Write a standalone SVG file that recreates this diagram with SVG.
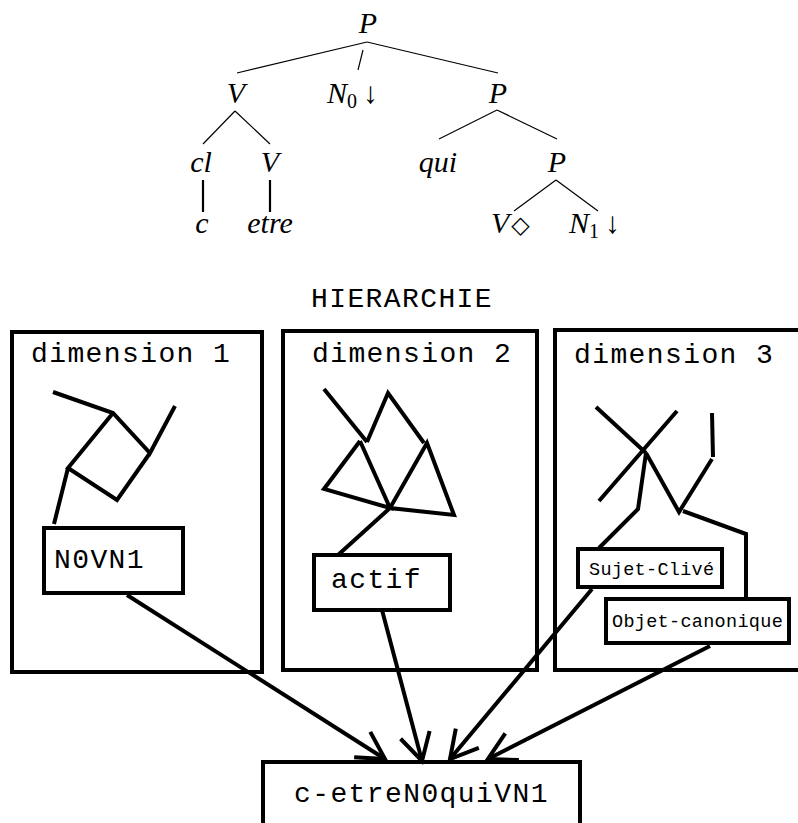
<svg xmlns="http://www.w3.org/2000/svg" width="798" height="823" viewBox="0 0 798 823">
  <style>
    .tree { font-family: "Liberation Serif", "Times New Roman", serif; font-style: italic; font-size: 30px; fill: #000; }
    .up { font-style: normal; }
    .sub { font-style: normal; font-size: 20px; }
    .thin { stroke: #000; stroke-width: 1.2; fill: none; }
    .mid { stroke: #000; stroke-width: 2.2; fill: none; }
    .mono { font-family: "Liberation Mono", "Courier New", monospace; font-size: 28px; letter-spacing: 1.4px; fill: #000; }
    .small { font-size: 18.5px; letter-spacing: 0.3px; }
    .box { stroke: #000; stroke-width: 4; fill: none; }
    .bold { stroke: #000; stroke-width: 4; fill: none; stroke-linejoin: miter; }
    .arrow { stroke: #000; stroke-width: 4; fill: none; marker-end: url(#vhead); }
  </style>
  <defs>
    <marker id="vhead" markerUnits="userSpaceOnUse" markerWidth="40" markerHeight="40" viewBox="-34 -20 40 40" refX="0" refY="0" orient="auto">
      <path d="M-27,-15 L0,0 L-27,15" stroke="#000" stroke-width="4" fill="none"/>
    </marker>
  </defs>
  <rect width="798" height="823" fill="#fff"/>

  <!-- elementary tree -->
  <g id="tree">
    <g class="thin">
      <line x1="367" y1="42" x2="237" y2="73"/>
      <line x1="363" y1="50" x2="358" y2="70"/>
      <line x1="367" y1="42" x2="498" y2="73"/>
      <line x1="235" y1="111" x2="203" y2="144"/>
      <line x1="235" y1="111" x2="270" y2="144"/>
      <line x1="497" y1="110" x2="439" y2="139"/>
      <line x1="497" y1="110" x2="557" y2="139"/>
      <line x1="556" y1="180" x2="514" y2="211"/>
      <line x1="556" y1="180" x2="598" y2="211"/>
    </g>
    <g class="mid">
      <line x1="203" y1="180" x2="203" y2="212"/>
      <line x1="270" y1="180" x2="270" y2="212"/>
    </g>
    <g class="tree">
      <text x="368" y="33" text-anchor="middle">P</text>
      <text x="236" y="103" text-anchor="middle">V</text>
      <text x="327" y="103">N<tspan class="sub" dy="5">0</tspan><tspan class="up" dy="-5" dx="6">↓</tspan></text>
      <text x="498" y="103" text-anchor="middle">P</text>
      <text x="201" y="172" text-anchor="middle">cl</text>
      <text x="270" y="172" text-anchor="middle">V</text>
      <text x="438" y="172" text-anchor="middle">qui</text>
      <text x="557" y="172" text-anchor="middle">P</text>
      <text x="202" y="233" text-anchor="middle">c</text>
      <text x="270" y="233" text-anchor="middle">etre</text>
      <text x="491" y="233">V<tspan class="up" font-family="DejaVu Sans, sans-serif" font-size="24" dx="2">◇</tspan></text>
      <text x="569" y="233">N<tspan class="sub" dy="5">1</tspan><tspan class="up" dy="-5" dx="6">↓</tspan></text>
    </g>
  </g>

  <text id="title" class="mono" x="311" y="307">HIERARCHIE</text>

  <!-- dimension 1 -->
  <g id="dim1">
    <rect class="box" x="12" y="332" width="250" height="340"/>
    <text class="mono" x="31" y="362">dimension 1</text>
    <path class="bold" d="M53,392 L113,413 L150,453 L175,406 M113,413 L68,468 L117,500 L150,453 M68,468 L54,524"/>
    <g id="n0vn1">
      <rect class="box" x="44" y="528" width="139" height="65"/>
      <text class="mono" x="54" y="568">N0VN1</text>
    </g>
  </g>

  <!-- dimension 2 -->
  <g id="dim2">
    <rect class="box" x="283" y="331" width="254" height="339"/>
    <text class="mono" x="312" y="362">dimension 2</text>
    <path class="bold" d="M324,389 L367,442 M367,442 L388,393 L424,443 M360,441 L324,489 L390,508 L360,441 M427,443 L390,508 L454,515 Z M390,508 L338,555"/>
    <g id="actif">
      <rect class="box" x="314" y="555" width="136" height="55"/>
      <text class="mono" x="331" y="588">actif</text>
    </g>
  </g>

  <!-- dimension 3 -->
  <g id="dim3">
    <rect class="box" x="555" y="330" width="260" height="340"/>
    <text class="mono" x="574" y="363">dimension 3</text>
    <path class="bold" d="M596,407 L646,453 M677,411 L599,501 M646,453 L638,509 L599,548 M646,453 L679,512 L712,459 M712,413 L713,457 M683,511 L746,534 L746,598"/>
    <g id="sujet">
      <rect class="box" x="578" y="549" width="144" height="38"/>
      <text class="mono small" x="589" y="575">Sujet-Clivé</text>
    </g>
    <g id="objet">
      <rect class="box" x="606" y="599" width="183" height="44"/>
      <text class="mono small" x="612" y="627">Objet-canonique</text>
    </g>
  </g>

  <!-- result -->
  <g id="result">
    <rect class="box" x="263" y="762" width="317" height="80"/>
    <text class="mono" x="294" y="802">c-etreN0quiVN1</text>
  </g>

  <!-- connectors -->
  <g id="connectors">
    <line class="arrow" x1="127" y1="595" x2="385" y2="759"/>
    <line class="arrow" x1="382" y1="610" x2="422" y2="761"/>
    <line class="arrow" x1="592" y1="589" x2="450" y2="759"/>
    <line class="arrow" x1="710" y1="646" x2="488" y2="759"/>
  </g>
</svg>
